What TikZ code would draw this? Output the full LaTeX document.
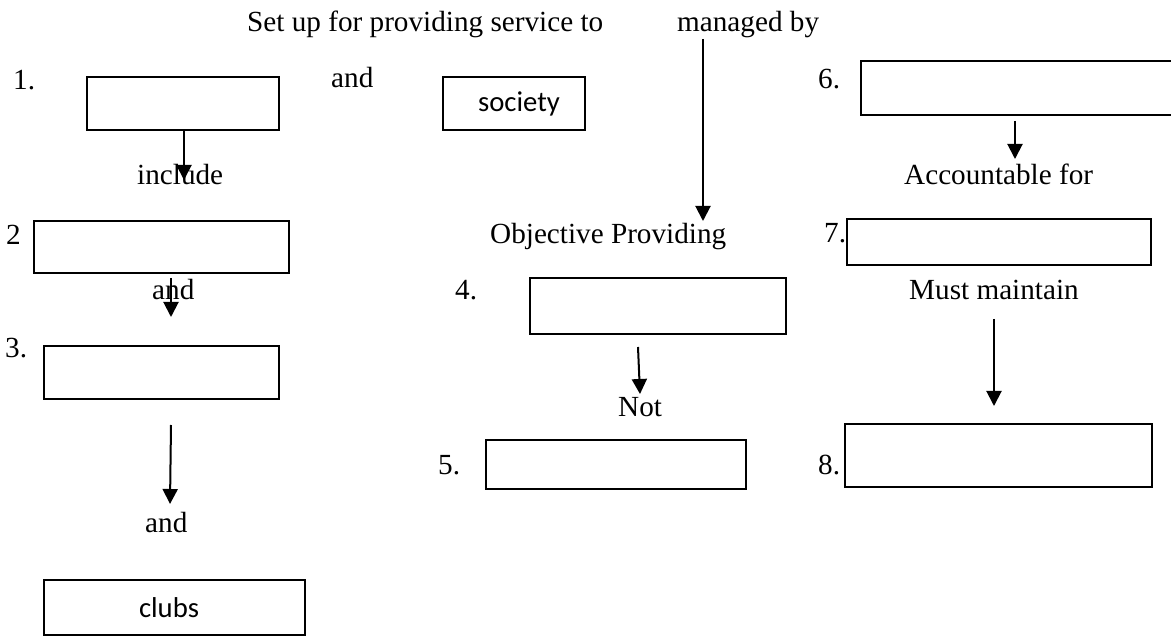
\documentclass[tikz,border=0pt]{standalone}
\usepackage{fontspec}
\setmainfont{Liberation Serif}
\newfontfamily\boxfont{Carlito}
\usetikzlibrary{arrows.meta}
\tikzset{
  txt/.style={anchor=base west, inner sep=0pt, font=\fontsize{29.2}{35}\selectfont},
  box/.style={draw, line width=2.4pt, inner sep=0pt, outer sep=0pt, font=\boxfont\fontsize{28.7}{34}\selectfont},
  arr/.style={line width=2pt, -{Triangle[length=15pt,width=15pt]}}
}
\begin{document}
\begin{tikzpicture}[x=1pt,y=-1pt]
\useasboundingbox (0,0) rectangle (1171,636);
% boxes
\node[box, minimum width=192pt, minimum height=53pt] (b1) at (183,103.5) {};
\node[box, minimum width=142pt, minimum height=53pt] (soc) at (514,103.5) {\hspace*{10pt}society};
\node[box, minimum width=313pt, minimum height=54pt] (b6) at (1017.5,88) {};
\node[box, minimum width=255pt, minimum height=52pt] (b2) at (161.5,247) {};
\node[box, minimum width=304pt, minimum height=46pt] (b7) at (999,242) {};
\node[box, minimum width=256pt, minimum height=56pt] (b4) at (658,306) {};
\node[box, minimum width=235pt, minimum height=53pt] (b3) at (161.5,372.5) {};
\node[box, minimum width=260pt, minimum height=49pt] (b5) at (616,464.5) {};
\node[box, minimum width=307pt, minimum height=63pt] (b8) at (998.5,455.5) {};
\node[box, minimum width=261pt, minimum height=55pt] (clubs) at (174.5,607.5) {clubs\hspace*{11pt}};
% texts
\node[txt] (setup) at (247,32) {Set up for providing service to};
\node[txt] (mb) at (677,32) {managed by};
\node[txt] (n1) at (13,90) {1.};
\node[txt] (and1) at (331,88) {and};
\node[txt] (n6) at (818,89) {6.};
\node[txt] (incl) at (137,185) {include};
\node[txt] (acc) at (904,185) {Accountable for};
\node[txt] (n2) at (6,245) {2};
\node[txt] (obj) at (490,244) {Objective Providing};
\node[txt] (n7) at (824,243) {7.};
\node[txt] (and2) at (152,300) {and};
\node[txt] (n4) at (455,300) {4.};
\node[txt] (must) at (909,300) {Must maintain};
\node[txt] (n3) at (5,358) {3.};
\node[txt] (nt) at (618,417) {Not};
\node[txt] (n5) at (438,475) {5.};
\node[txt] (n8) at (818,475) {8.};
\node[txt] (and3) at (145,532) {and};
% arrow end points
\coordinate (t1) at (184,180);
\coordinate (s2) at (703,39);
\coordinate (t2) at (703,221);
\coordinate (s6) at (1015,121);
\coordinate (t6) at (1015,159);
\coordinate (s3) at (171,278);
\coordinate (t3) at (171,317);
\coordinate (s4) at (638,347);
\coordinate (t4) at (640,394);
\coordinate (s5) at (171,425);
\coordinate (t5) at (170,504);
\coordinate (s8) at (994,319);
\coordinate (t8) at (994,406);
% arrows
\draw[arr] (b1.south -| t1) -- (t1);
\draw[arr] (s2) -- (t2);
\draw[arr] (s6) -- (t6);
\draw[arr] (s3) -- (t3);
\draw[arr] (s4) -- (t4);
\draw[arr] (s5) -- (t5);
\draw[arr] (s8) -- (t8);
\end{tikzpicture}
\end{document}
